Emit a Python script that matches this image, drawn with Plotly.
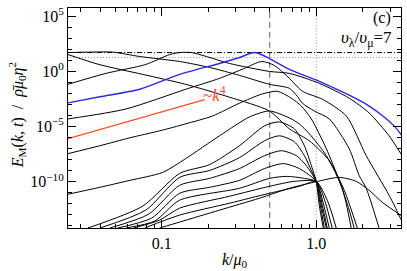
import plotly.graph_objects as go

# ---------------- data (log10 k/mu0 , log10 E) ----------------
blue_lgk = [-1.606, -1.400, -1.142, -0.884, -0.626, -0.497, -0.400, -0.303, -0.174, 0.019, 0.213, 0.342, 0.439, 0.503, 0.555]
blue_lgE = [-2.85, -2.30, -1.62, -0.27, 0.72, 1.26, 1.71, 1.17, 0.18, -0.90, -2.16, -3.14, -4.13, -4.94, -5.84]

R_lgk = [-1.606, -1.361, -1.103, -0.948, -0.884, -0.806, -0.710, -0.561, -0.303, -0.174, 0.019, 0.213, 0.342, 0.471, 0.555]
R_lgE = [-1.17, -0.18, 0.63, 1.53, 1.71, 1.71, 1.35, 0.72, 0.00, -0.18, -1.08, -2.43, -3.77, -5.84, -7.64]

P_lgk = [-1.606, -1.465, -1.316, -1.142, -0.884, -0.690, -0.497, -0.303, -0.174, -0.123, -0.090, -0.013, 0.084, 0.213, 0.277, 0.323, 0.406]
P_lgE = [1.71, 1.75, 1.75, 1.35, 0.90, 0.36, -0.36, -1.17, -1.53, -2.25, -2.88, -3.59, -4.31, -7.01, -9.43, -10.60, -14.20]

Q_lgk = [-1.606, -1.406, -1.123, -0.845, -0.561, -0.303, -0.174, -0.045, 0.084, 0.181, 0.265]
Q_lgE = [1.53, 0.63, -0.27, -1.17, -2.34, -3.59, -5.21, -6.29, -8.09, -10.78, -14.20]

S_lgk = [-1.606, -1.232, -0.845, -0.626, -0.465, -0.355, -0.271, -0.174, -0.090, 0.039, 0.194, 0.323, 0.471, 0.535, 0.561]
S_lgE = [-4.31, -3.41, -1.62, -0.63, 0.27, 0.90, 0.54, -0.63, -1.80, -2.52, -4.04, -7.64, -11.23, -13.03, -13.84]

C6_lgk = [-1.606, -1.400, -1.206, -1.013, -0.845, -0.671, -0.497, -0.355, -0.252, -0.161, -0.097, -0.032, 0.065, 0.148, 0.213, 0.245]
C6_lgE = [-7.46, -6.74, -6.02, -5.39, -4.76, -4.04, -2.88, -2.07, -1.80, -2.43, -3.14, -4.31, -7.01, -9.88, -12.58, -14.20]

C7_lgk = [-1.606, -1.400, -1.206, -0.994, -0.845, -0.626, -0.432, -0.303, -0.174, -0.110, -0.045, 0.065, 0.168, 0.226]
C7_lgE = [-11.14, -10.51, -9.88, -9.16, -7.91, -5.84, -4.13, -3.59, -4.22, -4.76, -5.66, -7.64, -10.60, -14.20]

G7_lgk = [-1.477, -1.123, -0.884, -0.690, -0.497, -0.335, -0.239, -0.142, -0.077, -0.032, 0.000, 0.019, 0.045]
G7_lgE = [-14.20, -12.22, -9.25, -8.45, -6.74, -4.94, -4.58, -5.21, -6.74, -8.54, -10.0, -12.13, -14.20]

G6_lgk = [-1.400, -1.103, -0.884, -0.690, -0.497, -0.335, -0.239, -0.142, -0.077, -0.032, 0.000, 0.026, 0.052]
G6_lgE = [-14.20, -12.58, -9.61, -8.98, -7.82, -6.29, -5.84, -6.38, -7.64, -8.98, -10.0, -12.13, -14.20]

G5_lgk = [-1.335, -1.084, -0.884, -0.690, -0.497, -0.335, -0.226, -0.129, -0.065, 0.000, 0.032, 0.065]
G5_lgE = [-14.20, -12.94, -10.33, -9.70, -8.81, -7.64, -7.19, -7.64, -8.54, -10.0, -12.13, -14.20]

G4_lgk = [-1.284, -1.065, -0.884, -0.690, -0.497, -0.335, -0.213, -0.110, 0.000, 0.039, 0.071]
G4_lgE = [-14.20, -13.30, -11.05, -10.51, -9.88, -8.81, -8.36, -8.81, -10.0, -12.13, -14.20]

G3_lgk = [-1.232, -1.045, -0.884, -0.497, -0.303, -0.194, -0.077, 0.000, 0.045, 0.084]
G3_lgE = [-14.20, -13.57, -11.68, -10.60, -9.70, -9.52, -9.70, -10.0, -11.95, -14.20]

G2_lgk = [-1.181, -1.013, -0.884, -0.561, -0.303, -0.142, 0.000, 0.058, 0.103]
G2_lgE = [-14.20, -13.48, -12.40, -11.32, -10.42, -9.97, -10.0, -11.86, -14.20]

G1_lgk = [-1.110, -0.884, -0.561, -0.303, -0.110, 0.000, 0.071, 0.129]
G1_lgE = [-14.20, -13.03, -11.95, -11.05, -10.42, -10.0, -11.68, -14.20]

I0_lgk = [-1.013, -0.884, -0.626, -0.368, -0.174, 0.000, 0.148, 0.258, 0.342, 0.426, 0.555]
I0_lgE = [-14.20, -13.66, -12.58, -11.50, -10.60, -10.0, -9.61, -9.97, -10.78, -11.86, -13.12]

# k^4 reference line
k4_lgk = [-1.606, -0.722]
k4_lgE = [-6.10, -2.56]

# reference lines
k_peak = 0.5          # dashed vertical
k_mu0 = 1.0           # dotted vertical
E_dashdot = 10 ** 1.71
E_dotted = 10 ** 1.26

x_tickvals = [0.1, 1.0]
x_ticktext = ["0.1", "1.0"]
y_tickvals = [1e-10, 1e-5, 1e0, 1e5]
y_ticktext = ["10<sup>\u221210</sup>", "10<sup>\u22125</sup>", "10<sup>0</sup>", "10<sup>5</sup>"]

# ---------------- figure ----------------
FONT = "Liberation Serif"
fig = go.Figure()

black_curves = [
    (I0_lgk, I0_lgE), (G1_lgk, G1_lgE), (G2_lgk, G2_lgE), (G3_lgk, G3_lgE),
    (G4_lgk, G4_lgE), (G5_lgk, G5_lgE), (G6_lgk, G6_lgE), (G7_lgk, G7_lgE),
    (C7_lgk, C7_lgE), (C6_lgk, C6_lgE), (S_lgk, S_lgE),
    (Q_lgk, Q_lgE), (P_lgk, P_lgE), (R_lgk, R_lgE),
]

def pw(arr):
    return [10 ** v for v in arr]

# reference lines
fig.add_trace(go.Scatter(x=[k_peak, k_peak], y=[1e-16, 1e7], mode="lines",
                         line=dict(color="#606060", width=1, dash="6px,4px"), hoverinfo="skip"))
fig.add_trace(go.Scatter(x=[k_mu0, k_mu0], y=[1e-16, 1e7], mode="lines",
                         line=dict(color="#9a9a9a", width=1, dash="1px,2px"), hoverinfo="skip"))
fig.add_trace(go.Scatter(x=[0.01, 10], y=[E_dotted, E_dotted], mode="lines",
                         line=dict(color="#9a9a9a", width=1, dash="1px,2px"), hoverinfo="skip"))
fig.add_trace(go.Scatter(x=[0.01, 10], y=[E_dashdot, E_dashdot], mode="lines",
                         line=dict(color="black", width=1, dash="5px,2px,1px,2px"), hoverinfo="skip"))

for lgk, lgE in black_curves:
    fig.add_trace(go.Scatter(x=pw(lgk), y=pw(lgE), mode="lines",
                             line=dict(color="black", width=1, shape="spline", smoothing=0.7),
                             hoverinfo="skip"))

fig.add_trace(go.Scatter(x=pw(blue_lgk), y=pw(blue_lgE), mode="lines",
                         line=dict(color="#2a2ae6", width=1.4, shape="spline", smoothing=0.7),
                         hoverinfo="skip"))
fig.add_trace(go.Scatter(x=pw(k4_lgk), y=pw(k4_lgE), mode="lines",
                         line=dict(color="#ff4a2a", width=1.2), hoverinfo="skip"))

minor_x = [0.03, 0.04, 0.05, 0.06, 0.07, 0.08, 0.09, 0.2, 0.3, 0.4, 0.5, 0.6, 0.7, 0.8, 0.9, 2, 3]
minor_y = [10.0 ** n for n in range(-14, 6) if n not in (-10, -5, 0, 5)]

fig.update_xaxes(type="log", range=[-1.606, 0.548], showgrid=False, zeroline=False,
                 showline=True, linecolor="black", linewidth=1, mirror="ticks",
                 ticks="inside", ticklen=8, tickcolor="black", tickwidth=1,
                 tickmode="array", tickvals=x_tickvals, ticktext=x_ticktext,
                 tickfont=dict(family=FONT, size=16, color="black"),
                 ticklabelstandoff=1,
                 minor=dict(ticks="inside", ticklen=4, tickcolor="black", tickwidth=1,
                            tickmode="array", tickvals=minor_x))
fig.update_yaxes(type="log", range=[-14.2, 5.75], showgrid=False, zeroline=False,
                 showline=True, linecolor="black", linewidth=1, mirror="ticks",
                 ticks="inside", ticklen=8, tickcolor="black", tickwidth=1,
                 tickmode="array", tickvals=y_tickvals, ticktext=y_ticktext,
                 tickfont=dict(family=FONT, size=16, color="black"),
                 minor=dict(ticks="inside", ticklen=4, tickcolor="black", tickwidth=1,
                            tickmode="array", tickvals=minor_y))

def px_x(px):
    return (px - 68) / 334.0

def px_y(py):
    return (228 - py) / 222.0

annotations = [
    dict(x=px_x(394), y=px_y(16), text="(c)", xanchor="right", yanchor="middle",
         font=dict(family=FONT, size=16, color="black")),
    dict(x=px_x(395), y=px_y(37), text="<i>\u03c5</i><sub>\u03bb</sub>/<i>\u03c5</i><sub>\u03bc</sub>=7",
         xanchor="right", yanchor="middle", font=dict(family=FONT, size=17, color="black")),
    dict(x=px_x(215), y=px_y(93), text="~<i>k</i><sup>4</sup>", xanchor="center", yanchor="middle",
         font=dict(family=FONT, size=17, color="#ff4a2a")),
    dict(x=0.5, y=px_y(261), text="<i>k</i>/<i>\u03bc</i><sub>0</sub>", xanchor="center", yanchor="middle",
         font=dict(family=FONT, size=16, color="black")),
    dict(x=px_x(17), y=px_y(114), textangle=-90,
         text="<i>E</i><sub>M</sub>(<i>k</i>, <i>t</i>)\u00a0\u00a0/\u00a0\u00a0<i>\u03c1\u0304\u03bc</i><sub>0</sub><i>\u03b7</i><sup>2</sup>",
         xanchor="center", yanchor="middle", font=dict(family=FONT, size=16, color="black")),
]
for a in annotations:
    a.update(xref="paper", yref="paper", showarrow=False)

fig.update_layout(width=407, height=271, margin=dict(l=68, r=5, t=6, b=43),
                  paper_bgcolor="white", plot_bgcolor="white", showlegend=False,
                  annotations=annotations)

fig.write_html("out.html", config={"displayModeBar": False, "staticPlot": True},
               post_script="document.body.style.margin='0';document.body.style.padding='0';")
